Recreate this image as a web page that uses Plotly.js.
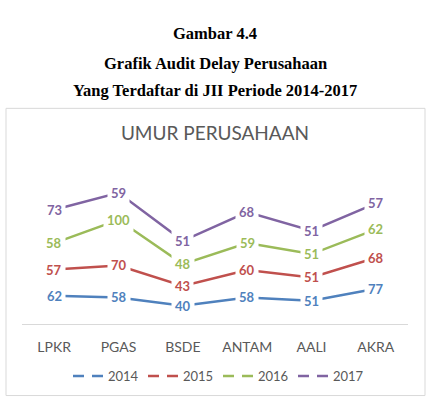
<!DOCTYPE html>
<html><head><meta charset="utf-8">
<script src="https://cdn.plot.ly/plotly-3.0.1.min.js"></script>
<style>html,body{margin:0;padding:0;background:#fff;}#chart{width:430px;height:402px;}</style>
</head><body><div id="chart"></div>
<script>
const categories = ['LPKR','PGAS','BSDE','ANTAM','AALI','AKRA'];
const years = ['2014','2015','2016','2017'];
const v2014 = [62,58,40,58,51,77];
const v2015 = [57,70,43,60,51,68];
const v2016 = [58,100,48,59,51,62];
const v2017 = [73,59,51,68,51,57];
const colors = ['#4F81BD','#C0504D','#9BBB59','#8064A2'];
const captionLines = ['Gambar 4.4','Grafik Audit Delay Perusahaan','Yang Terdaftar di JII Periode 2014-2017'];
const chartTitle = 'UMUR PERUSAHAAN';

const series = [v2014, v2015, v2016, v2017];
const traces = [];
const annotations = [];
const cum = categories.map(() => 0);
series.forEach((vals, i) => {
  traces.push({x: categories, y: vals, type: 'scatter', mode: 'lines', stackgroup: 'one', fill: 'none',
    line: {color: colors[i], width: 2.5}, showlegend: false, hoverinfo: 'skip'});
  vals.forEach((v, j) => {
    cum[j] += v;
    annotations.push({x: categories[j], y: cum[j], xref: 'x', yref: 'y', text: String(v), showarrow: false,
      font: {family: 'Lato, sans-serif', size: 13, color: colors[i], weight: 'bold'},
      bgcolor: '#ffffff', borderpad: 3, xanchor: 'center', yanchor: 'middle'});
  });
});
years.forEach((y, i) => {
  traces.push({x: [null], y: [null], type: 'scatter', mode: 'lines', name: y,
    line: {color: colors[i], width: 2.5, dash: '11px,8px'}, showlegend: true});
});

// pixel layout helpers (plot area: x 22..408, y 164..325)
const T = 164, B = 325, H = B - T;
const py = p => (B - p) / H;
const captionY = [33, 63, 90];
captionLines.forEach((t, i) => {
  annotations.push({xref: 'paper', yref: 'paper', x: 0.5, y: py(captionY[i]), text: t, showarrow: false,
    xanchor: 'center', yanchor: 'middle',
    font: {family: 'Liberation Serif, Times New Roman, serif', size: 16.5, color: '#000', weight: 'bold'}});
});

const layout = {
  width: 430, height: 402,
  margin: {l: 22, r: 22, t: T, b: 402 - B},
  paper_bgcolor: '#ffffff', plot_bgcolor: '#ffffff',
  title: {text: chartTitle, x: 0.5, xanchor: 'center', y: 1 - 133/402, yanchor: 'middle', yref: 'container',
    font: {family: 'Lato, sans-serif', size: 19, color: '#595959'}},
  xaxis: {type: 'category', range: [-0.5, 5.5], showgrid: false, zeroline: false,
    showline: true, linecolor: '#d9d9d9', linewidth: 1, ticks: '', ticklabelstandoff: 10,
    tickfont: {family: 'Lato, sans-serif', size: 14, color: '#595959'}, fixedrange: true},
  yaxis: {range: [0, 350], visible: false, showgrid: false, zeroline: false, fixedrange: true},
  showlegend: true,
  legend: {orientation: 'h', x: 0.5 + 3/386, xanchor: 'center', y: py(376), yanchor: 'middle',
    entrywidth: 30, entrywidthmode: 'pixels',
    font: {family: 'Lato, sans-serif', size: 13, color: '#595959'}, itemclick: false, itemdoubleclick: false},
  annotations: annotations,
  shapes: [{type: 'rect', xref: 'paper', yref: 'paper', x0: (6-22)/386, x1: (425-22)/386,
    y0: py(397), y1: py(108), line: {color: '#d9d9d9', width: 1}, fillcolor: 'rgba(0,0,0,0)', layer: 'below'}]
};
Plotly.newPlot('chart', traces, layout, {staticPlot: true, displayModeBar: false});
</script></body></html>
